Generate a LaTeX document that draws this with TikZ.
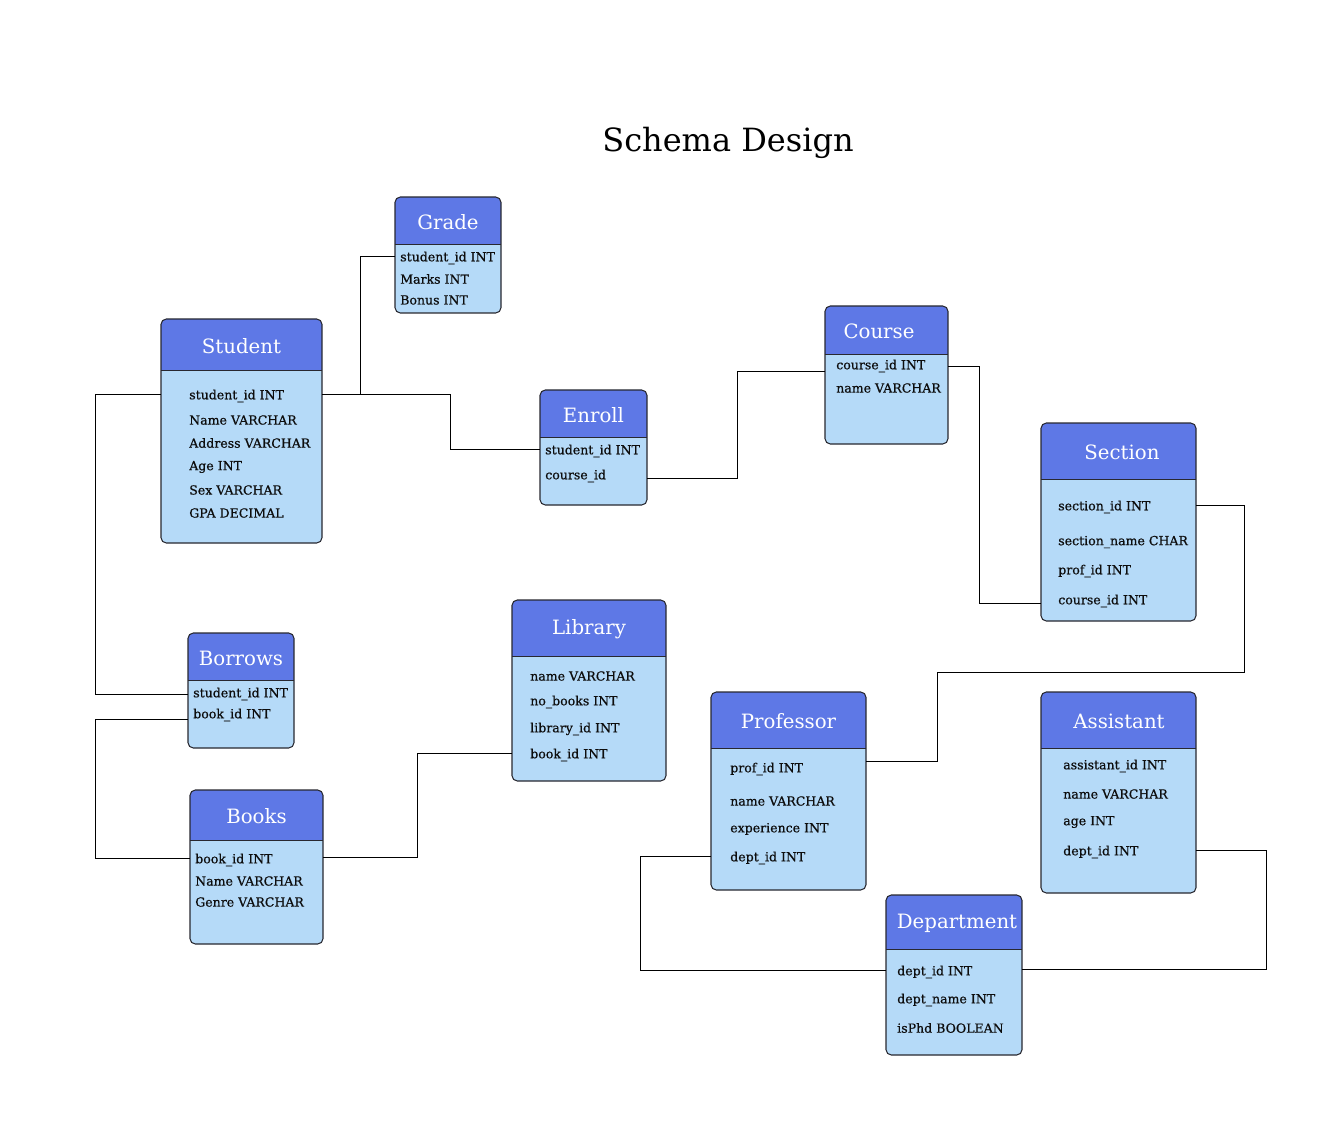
\documentclass[tikz,border=0pt]{standalone}
\usepackage{fontspec}
\setmainfont{DejaVu Serif}
\newfontfamily\fieldfont[FakeBold=0.6]{DejaVu Serif}
\usetikzlibrary{fit}

\definecolor{headblue}{RGB}{94,120,230}
\definecolor{bodyblue}{RGB}{181,218,248}
\definecolor{edgegrey}{RGB}{40,40,48}

\tikzset{
	entitybox/.style={inner sep=0pt, fill=bodyblue, rounded corners=4pt},
	headtext/.style={text=white, font=\fontsize{14.8}{17}\selectfont, inner sep=0pt},
	field/.style={anchor=west, inner sep=0pt, font=\fieldfont\fontsize{9.4}{11}\selectfont, text=black!95},
	conn/.style={draw=black, line width=0.6pt}
}

% one table: name, left, top, right, bottom, bottom of header, title, title centre
\newcommand{\entity}[8]{%
	\node[entitybox, fit={(#2,#3) (#4,#5)}] (#1) {};
	\begin{scope}
		\clip[rounded corners=4pt] (#2,#3) rectangle (#4,#5);
		\fill[headblue] (#2,#3) rectangle (#4,#6);
	\end{scope}
	\draw[edgegrey, line width=0.7pt] (#2,#6) -- (#4,#6);
	\draw[edgegrey, line width=0.8pt, rounded corners=4pt] (#2,#3) rectangle (#4,#5);
	\node[headtext] (#1-title) at ({#8},{(#3+#6)/2+1.5}) {#7};
}

\begin{document}
\begin{tikzpicture}[x=0.75pt, y=-0.75pt]
	\useasboundingbox (0,0) rectangle (1344,1126);

	\node[font=\fontsize{24}{28}\selectfont] (title) at (728,143) {Schema Design};

	% tables
	\entity{grade}{395}{197}{501}{313}{244}{Grade}{448}
	\node[field] (grade-1) at (400,258) {student\_id INT};
	\node[field] (grade-2) at (400,279) {Marks INT};
	\node[field] (grade-3) at (400,300) {Bonus INT};

	\entity{student}{161}{319}{322}{543}{370}{Student}{241.5}
	\node[field] (student-1) at (189,396) {student\_id INT};
	\node[field] (student-2) at (189,420) {Name VARCHAR};
	\node[field] (student-3) at (189,443) {Address VARCHAR};
	\node[field] (student-4) at (189,467) {Age INT};
	\node[field] (student-5) at (189,490) {Sex VARCHAR};
	\node[field] (student-6) at (189,513) {GPA DECIMAL};

	\entity{enroll}{540}{390}{647}{505}{437}{Enroll}{593.5}
	\node[field] (enroll-1) at (545,451) {student\_id INT};
	\node[field] (enroll-2) at (545,476) {course\_id};

	\entity{course}{825}{306}{948}{444}{354}{Course}{879}
	\node[field] (course-1) at (836,366) {course\_id INT};
	\node[field] (course-2) at (836,388) {name VARCHAR};

	\entity{section}{1041}{423}{1196}{621}{479}{Section}{1122}
	\node[field] (section-1) at (1058,507) {section\_id INT};
	\node[field] (section-2) at (1058,542) {section\_name CHAR};
	\node[field] (section-3) at (1058,571) {prof\_id INT};
	\node[field] (section-4) at (1058,601) {course\_id INT};

	\entity{borrows}{188}{633}{294}{748}{680}{Borrows}{241}
	\node[field] (borrows-1) at (193,694) {student\_id INT};
	\node[field] (borrows-2) at (193,715) {book\_id INT};

	\entity{library}{512}{600}{666}{781}{656}{Library}{589}
	\node[field] (library-1) at (530,676) {name VARCHAR};
	\node[field] (library-2) at (530,702) {no\_books INT};
	\node[field] (library-3) at (530,729) {library\_id INT};
	\node[field] (library-4) at (530,755) {book\_id INT};

	\entity{books}{190}{790}{323}{944}{840}{Books}{256.5}
	\node[field] (books-1) at (195,860) {book\_id INT};
	\node[field] (books-2) at (195,881) {Name VARCHAR};
	\node[field] (books-3) at (195,902) {Genre VARCHAR};

	\entity{professor}{711}{692}{866}{890}{748}{Professor}{788.5}
	\node[field] (professor-1) at (730,769) {prof\_id INT};
	\node[field] (professor-2) at (730,801) {name VARCHAR};
	\node[field] (professor-3) at (730,829) {experience INT};
	\node[field] (professor-4) at (730,858) {dept\_id INT};

	\entity{assistant}{1041}{692}{1196}{893}{748}{Assistant}{1119}
	\node[field] (assistant-1) at (1063,766) {assistant\_id INT};
	\node[field] (assistant-2) at (1063,794) {name VARCHAR};
	\node[field] (assistant-3) at (1063,822) {age INT};
	\node[field] (assistant-4) at (1063,852) {dept\_id INT};

	\entity{department}{886}{895}{1022}{1055}{949}{Department}{957}
	\node[field] (department-1) at (897,972) {dept\_id INT};
	\node[field] (department-2) at (897,1000) {dept\_name INT};
	\node[field] (department-3) at (897,1028) {isPhd BOOLEAN};

	% links
	\draw[conn] ([yshift=1.5pt]student.east |- student-1) -- ++(38,0) |- ([yshift=1.5pt]grade.west |- grade-1);
	\draw[conn] ([yshift=1.5pt]student.east |- student-1) -- ++(128,0) |- ([yshift=1.5pt]enroll.west |- enroll-1);
	\draw[conn] ([yshift=-1.5pt]enroll.east |- enroll-2) -- ++(90,0) |- ([yshift=-4pt]course.west |- course-1);
	\draw[conn] (course.east |- course-1) -- ++(31,0) |- ([yshift=-2pt]section.west |- section-4);
	\draw[conn] ([yshift=1pt]section.east |- section-1) -- ++(48,0) -- ++(0,167) -- ++(-307,0) |- ([yshift=6pt]professor.east |- professor-1);
	\draw[conn] ([yshift=1.5pt]student.west |- student-1) -- ++(-65,0) |- (borrows.west |- borrows-1);
	\draw[conn] ([yshift=-3pt]borrows.west |- borrows-2) -- ++(-92,0) |- ([yshift=1.5pt]books.west |- books-1);
	\draw[conn] ([yshift=2pt]books.east |- books-1) -- ++(94,0) |- ([yshift=1pt]library.west |- library-4);
	\draw[conn] ([yshift=1pt]professor.west |- professor-4) -- ++(-70,0) |- ([yshift=1pt]department.west |- department-1);
	\draw[conn] ([yshift=2pt]department.east |- department-1) -- ++(244,0) |- ([yshift=1pt]assistant.east |- assistant-4);
\end{tikzpicture}
\end{document}
